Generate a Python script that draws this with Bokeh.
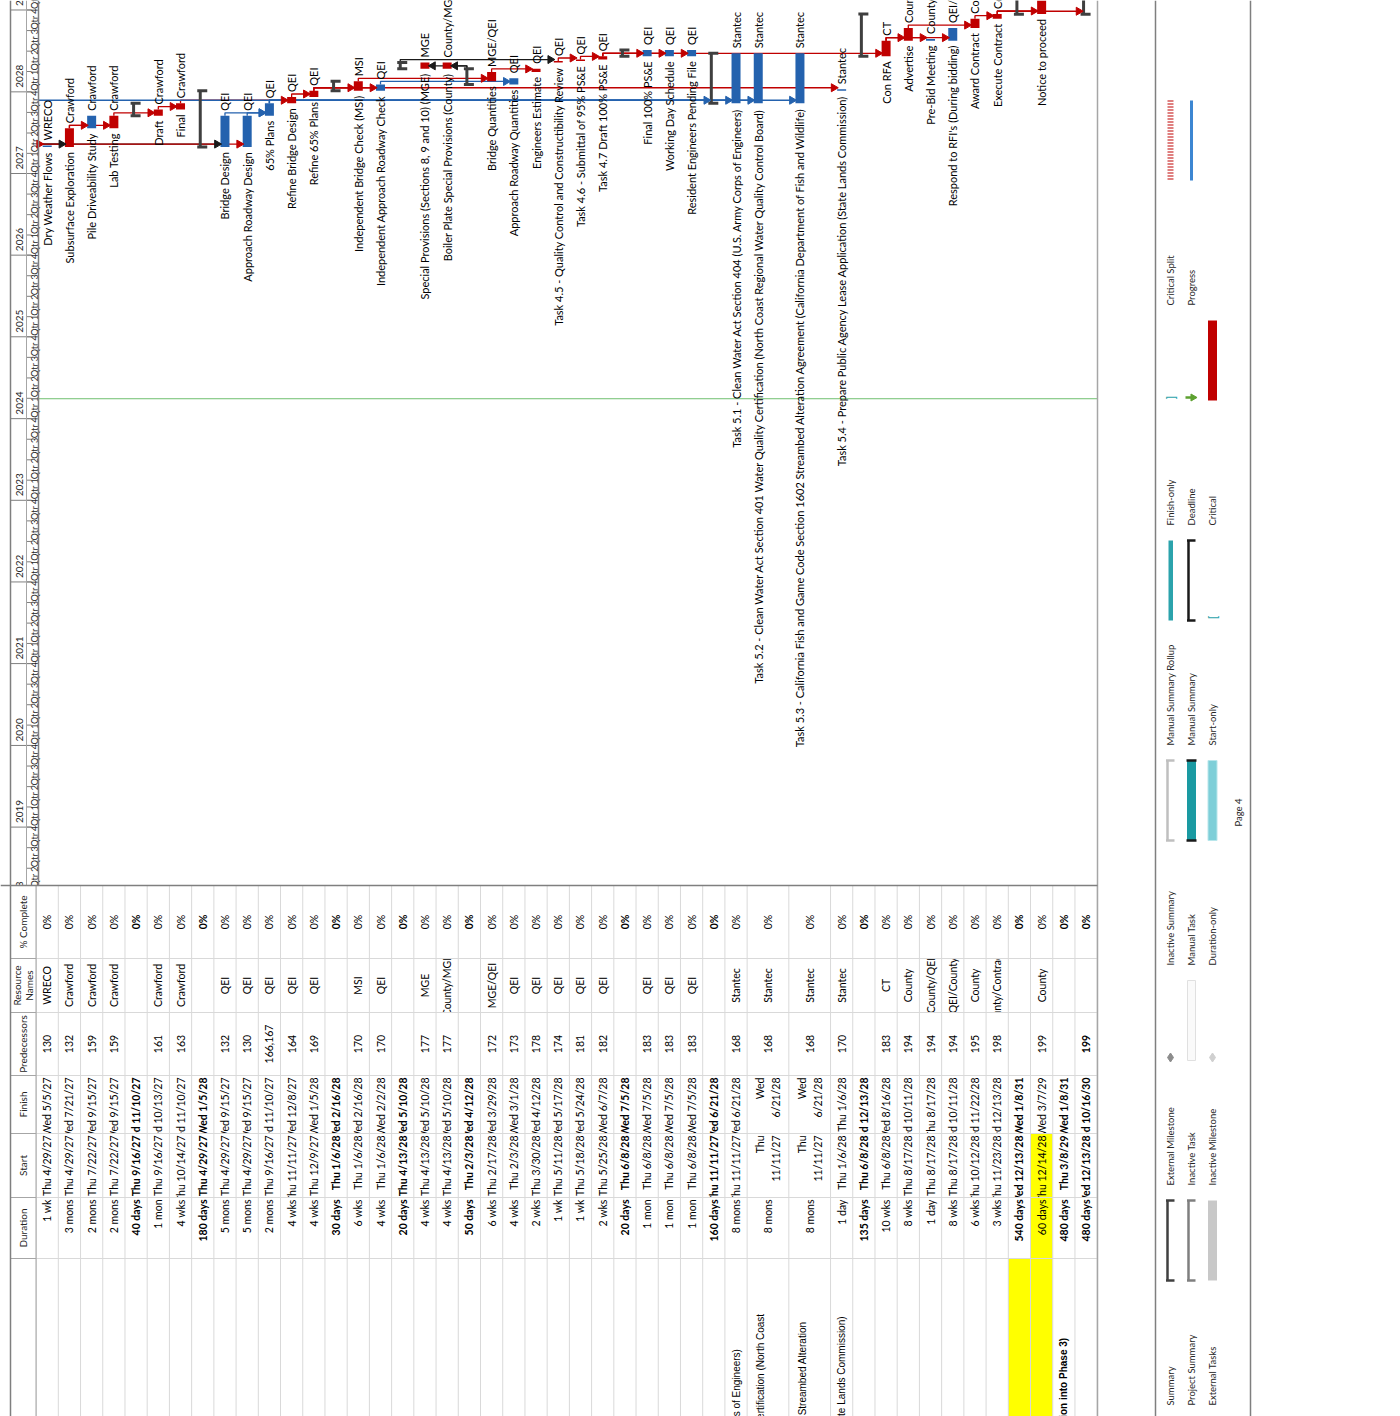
import textwrap
from math import pi
import pandas as pd
from bokeh.plotting import figure
from bokeh.models import Range1d, ColumnDataSource
from bokeh.core.properties import value
from bokeh.embed import file_html
from bokeh.resources import INLINE

# ---------------------------------------------------------------- data
task_ids = list(range(158, 204))
names = [
    "Dry Weather Flows", "Subsurface Exploration", "Pile Driveability Study", "Lab Testing",
    "", "Draft", "Final", "",
    "Bridge Design", "Approach Roadway Design", "65% Plans", "Refine Bridge Design", "Refine 65% Plans",
    "", "Independent Bridge Check (MSI)", "Independent Approach Roadway Check",
    "", "Special Provisions (Sections 8, 9 and 10) (MGE)", "Boiler Plate Special Provisions (County)",
    "", "Bridge Quantities", "Approach Roadway Quantities", "Engineers Estimate",
    "Task 4.5 - Quality Control and Constructibility Review", "Task 4.6 - Submittal of 95% PS&E",
    "Task 4.7 Draft 100% PS&E",
    "", "Final 100% PS&E", "Working Day Schedule", "Resident Engineers Pending File",
    "", "Task 5.1 - Clean Water Act Section 404 (U.S. Army Corps of Engineers)",
    "Task 5.2 - Clean Water Act Section 401 Water Quality Certification (North Coast Regional Water Quality Control Board)",
    "Task 5.3 - California Fish and Game Code Section 1602 Streambed Alteration Agreement (California Department of Fish and Wildlife)",
    "Task 5.4 - Prepare Public Agency Lease Application (State Lands Commission)",
    "", "Con RFA", "Advertise", "Pre-Bid Meeting", "Respond to RFI's (During bidding)",
    "Award Contract", "Execute Contract",
    "", "Notice to proceed", "Task 6.0 - Construction Support Services (Continuation into Phase 3)", "",
]
durations = [
    "1 wk", "3 mons", "2 mons", "2 mons", "40 days", "1 mon", "4 wks", "180 days",
    "5 mons", "5 mons", "2 mons", "4 wks", "4 wks", "30 days", "6 wks", "4 wks",
    "20 days", "4 wks", "4 wks", "50 days", "6 wks", "4 wks", "2 wks", "1 wk",
    "1 wk", "2 wks", "20 days", "1 mon", "1 mon", "1 mon", "160 days", "8 mons",
    "8 mons", "8 mons", "1 day", "135 days", "10 wks", "8 wks", "1 day", "8 wks",
    "6 wks", "3 wks", "540 days", "60 days", "480 days", "480 days",
]
starts = [
    "2027-04-29", "2027-04-29", "2027-07-22", "2027-07-22", "2027-09-16", "2027-09-16", "2027-10-14", "2027-04-29",
    "2027-04-29", "2027-04-29", "2027-09-16", "2027-11-11", "2027-12-09", "2028-01-06", "2028-01-06", "2028-01-06",
    "2028-04-13", "2028-04-13", "2028-04-13", "2028-02-03", "2028-02-17", "2028-02-03", "2028-03-30", "2028-05-11",
    "2028-05-18", "2028-05-25", "2028-06-08", "2028-06-08", "2028-06-08", "2028-06-08", "2027-11-11", "2027-11-11",
    "2027-11-11", "2027-11-11", "2028-01-06", "2028-06-08", "2028-06-08", "2028-08-17", "2028-08-17", "2028-08-17",
    "2028-10-12", "2028-11-23", "2028-12-13", "2028-12-14", "2029-03-08", "2028-12-13",
]
finishes = [
    "2027-05-05", "2027-07-21", "2027-09-15", "2027-09-15", "2027-11-10", "2027-10-13", "2027-11-10", "2028-01-05",
    "2027-09-15", "2027-09-15", "2027-11-10", "2027-12-08", "2028-01-05", "2028-02-16", "2028-02-16", "2028-02-02",
    "2028-05-10", "2028-05-10", "2028-05-10", "2028-04-12", "2028-03-29", "2028-03-01", "2028-04-12", "2028-05-17",
    "2028-05-24", "2028-06-07", "2028-07-05", "2028-07-05", "2028-07-05", "2028-07-05", "2028-06-21", "2028-06-21",
    "2028-06-21", "2028-06-21", "2028-01-06", "2028-12-13", "2028-08-16", "2028-10-11", "2028-08-17", "2028-10-11",
    "2028-11-22", "2028-12-13", "2031-01-08", "2029-03-07", "2031-01-08", "2030-10-16",
]
predecessors = [
    "130", "132", "159", "159", "", "161", "163", "", "132", "130", "166,167", "164", "169", "", "170", "170",
    "", "177", "177", "", "172", "173", "178", "174", "181", "182", "", "183", "183", "183", "", "168",
    "168", "168", "170", "", "183", "194", "194", "194", "195", "198", "", "199", "", "199",
]
resources = [
    "WRECO", "Crawford", "Crawford", "Crawford", "", "Crawford", "Crawford", "", "QEI", "QEI", "QEI", "QEI",
    "QEI", "", "MSI", "QEI", "", "MGE", "County/MGE", "", "MGE/QEI", "QEI", "QEI", "QEI", "QEI", "QEI", "",
    "QEI", "QEI", "QEI", "", "Stantec", "Stantec", "Stantec", "Stantec", "", "CT", "County", "County/QEI",
    "QEI/County", "County", "County/Contractor", "", "County", "", "",
]
pct_complete = ["0%"] * 46
# task type: crit = critical task, task = non-critical task, sum = summary
kinds = [
    "task", "crit", "task", "crit", "sum", "crit", "crit", "sum", "task", "task", "task", "crit", "crit", "sum",
    "crit", "task", "sum", "crit", "crit", "sum", "crit", "task", "crit", "crit", "crit", "crit", "sum", "task",
    "task", "task", "sum", "task", "task", "task", "task", "sum", "crit", "crit", "task", "task", "crit", "crit",
    "sum", "crit", "sum", "sum",
]
offpage_pred_kind = {130: "crit", 132: "sum"}
# links arriving from tasks on an earlier page (successor row index -> predecessor kind)
incoming_from_earlier_page = {30: "task"}
status_date = "2024-03-30"
highlight_cells = {42: ["name"], 43: ["dur", "start", "fin", "name"]}
years = list(range(2018, 2030))

legend_labels = [
    ["Summary", "External Milestone", "Inactive Summary", "Manual Summary Rollup", "Finish-only", "Critical Split"],
    ["Project Summary", "Inactive Task", "Manual Task", "Manual Summary", "Deadline", "Progress"],
    ["External Tasks", "Inactive Milestone", "Duration-only", "Start-only", "Critical"],
]
legend_symbols = [
    ["bracket_dark", "diamond_dark", "bracket_light", "rollup", "finish_only", "crit_split"],
    ["bracket_gray", "inactive_bar", "manual_task", "bracket_black", "deadline", "progress"],
    ["ext_bar", "diamond_light", "duration_only", "start_only", "crit_bar"],
]
page_label = "Page 4"

# ---------------------------------------------------------------- styles / layout
RED = "#C00000"
BLUE = "#2462AE"
SUMC = "#3F3F3F"
TEAL = "#2BA3AC"
YELLOW = "#FFFF00"
FONT = value("Lato")
NAMEFONT = value("Liberation Sans")
KCOL = {"crit": RED, "task": BLUE, "sum": "#1A1A1A"}

W, H = 1400, 1416
DAY = 86_400_000
EPOCH = pd.Timestamp("1970-01-01")


def ms(d):
    return (pd.Timestamp(d) - EPOCH) / pd.Timedelta(milliseconds=1)


PX_PER_YEAR = 81.7
MS_PER_PX = 365.25 * DAY / PX_PER_YEAR
Y_2027 = 173.0  # page y of 1 Jan 2027


def t_at(y_ref):
    return ms("2027-01-01") + (Y_2027 - y_ref) * MS_PER_PX


ROW = 22.22
TALL = 41.7
GANTT_LEFT = 38.0
TABLE_TOP = 885.0
RIGHT_EDGE = 1097.0
NAME_START = 1665.0
n = len(names)
tall = [textwrap.fill(nm, 80).count("\n") > 0 for nm in names]
heights = [TALL if t else ROW for t in tall]
tops = []
acc = 35.6
for h in heights:
    tops.append(acc)
    acc += h
bottoms = [t + h for t, h in zip(tops, heights)]
centers = [t + h / 2 for t, h in zip(tops, heights)]
bar_x = [t + ROW / 2 for t in tops]

start_ms = [ms(s) for s in starts]
end_ms = [ms(f) + DAY for f in finishes]
draw_end = [max(e, s + 1.6 * MS_PER_PX) for s, e in zip(start_ms, end_ms)]

p = figure(width=W, height=H, x_range=Range1d(0, W),
           y_range=Range1d(t_at(H), t_at(0)),
           output_backend="svg", toolbar_location=None, min_border=0,
           x_axis_location=None, y_axis_location=None)
p.extra_y_ranges = {"px": Range1d(H, 0)}
p.grid.visible = False
p.outline_line_color = None
p.background_fill_color = "white"

# ---------------------------------------------------------------- timescale header
q_starts, q_text = [], []
for yv in years:
    for q in range(4):
        q_starts.append(ms(f"{yv}-{3 * q + 1:02d}-01"))
        q_text.append(f"Qtr {q + 1}")
p.segment(x0=26, x1=31, y0=q_starts, y1=q_starts, line_color="#7F7F7F", line_width=1)
p.text(x=33.5, y=q_starts, text=q_text, angle=pi / 2, text_align="left", text_baseline="middle",
       y_offset=-1, text_font=FONT, text_font_size="9px", text_color="#262626")
y_starts = [ms(f"{yv}-01-01") for yv in years]
p.segment(x0=10, x1=31, y0=y_starts, y1=y_starts, line_color="#7F7F7F", line_width=1)
p.text(x=19, y=y_starts, text=[str(yv) for yv in years], angle=pi / 2, text_align="left",
       text_baseline="middle", y_offset=-4, text_font=FONT, text_font_size="10px", text_color="#262626")
p.segment(x0=26, x1=26, y0=t_at(TABLE_TOP), y1=t_at(0), line_color="#A6A6A6", line_width=1)

# status date line
p.segment(x0=GANTT_LEFT, x1=RIGHT_EDGE, y0=ms(status_date), y1=ms(status_date),
          line_color="#70BF70", line_width=1)

# ---------------------------------------------------------------- links
idx = {tid: i for i, tid in enumerate(task_ids)}
link_xs, link_ys, link_col = [], [], []
arr_x, arr_y, arr_a, arr_c = [], [], [], []


def anchor_x(j):
    return bar_x[j] - 2.5 if kinds[j] == "sum" else bar_x[j]


def add_link(i, xp, ys0, ly, col):
    tx = anchor_x(i)
    if tx > xp:
        ax, ang = tx - (4.5 if kinds[i] != "sum" else 1.5) - 3.5, -pi / 2
    else:
        ax, ang = tx + 4.5 + 3.5, pi / 2
    link_xs.append([xp, xp, ax])
    link_ys.append([ys0, ly, ly])
    link_col.append(col)
    arr_x.append(ax)
    arr_y.append(ly)
    arr_a.append(ang)
    arr_c.append(col)


for i, pr in enumerate(predecessors):
    for tok in [t for t in pr.split(",") if t]:
        pid = int(tok)
        ly = start_ms[i] + 3 * MS_PER_PX
        if pid in idx:
            j = idx[pid]
            add_link(i, anchor_x(j), end_ms[j], ly, KCOL[kinds[j]])
        else:
            add_link(i, GANTT_LEFT, ly, ly, KCOL[offpage_pred_kind.get(pid, "sum")])
for i, k in incoming_from_earlier_page.items():
    ly = start_ms[i] + 3 * MS_PER_PX
    add_link(i, GANTT_LEFT, ly, ly, KCOL[k])

p.multi_line(xs=link_xs, ys=link_ys, line_color=link_col, line_width=1.3)

# ---------------------------------------------------------------- bars
task_i = [i for i in range(n) if kinds[i] != "sum"]
sum_i = [i for i in range(n) if kinds[i] == "sum"]
p.vbar(x=[bar_x[i] for i in task_i], bottom=[start_ms[i] for i in task_i],
       top=[draw_end[i] for i in task_i], width=9,
       fill_color=[KCOL[kinds[i]] for i in task_i], line_color=None)
sx = [bar_x[i] - 2.5 for i in sum_i]
p.segment(x0=sx, x1=sx, y0=[start_ms[i] for i in sum_i], y1=[end_ms[i] for i in sum_i],
          line_color=SUMC, line_width=3)
for key in (start_ms, end_ms):
    p.segment(x0=[x - 3 for x in sx], x1=[x + 7 for x in sx], y0=[key[i] for i in sum_i],
              y1=[key[i] for i in sum_i], line_color=SUMC, line_width=3)

p.scatter(x=arr_x, y=arr_y, marker="triangle", size=8, angle=arr_a,
          fill_color=arr_c, line_color=arr_c)

# labels
p.text(x=[bar_x[i] for i in task_i], y=[start_ms[i] for i in task_i], text=[names[i] for i in task_i],
       angle=pi / 2, text_align="right", text_baseline="middle", y_offset=5,
       text_font=FONT, text_font_size="11px", text_color="black")
p.text(x=[bar_x[i] for i in task_i], y=[draw_end[i] for i in task_i], text=[resources[i] for i in task_i],
       angle=pi / 2, text_align="left", text_baseline="middle", y_offset=-5,
       text_font=FONT, text_font_size="11px", text_color="black")

# ---------------------------------------------------------------- table
COLS = {"pct": (885, 958), "res": (958, 1012), "pred": (1012, 1075), "fin": (1075, 1133),
        "start": (1133, 1197), "dur": (1197, 1258), "name": (1258, 1430)}
p.quad(left=0, right=RIGHT_EDGE, bottom=TABLE_TOP, top=H, fill_color="white", line_color=None,
       y_range_name="px")


def cell_bg(i, c):
    return YELLOW if c in highlight_cells.get(i, []) else "white"


def mask(c):
    # repaint a column's cell backgrounds: clips the overflow of neighbouring cells' texts
    p.quad(left=tops, right=bottoms, bottom=COLS[c][0], top=COLS[c][1],
           fill_color=[cell_bg(i, c) for i in range(n)], line_color=None, y_range_name="px")


mask("name")


def d_fmt(d, wrap):
    ts = pd.Timestamp(d)
    sep = "\n" if wrap else " "
    return f"{ts.strftime('%a')}{sep}{ts.month}/{ts.day}/{ts.strftime('%y')}"


styles = ["bold" if k == "sum" else "normal" for k in kinds]
tsrc = ColumnDataSource(dict(
    x=centers, dur=durations,
    st=[d_fmt(s, t) for s, t in zip(starts, tall)],
    fi=[d_fmt(f, t) for f, t in zip(finishes, tall)],
    pred=predecessors, res=resources, pct=pct_complete, style=styles,
    name=[textwrap.fill(nm, 80) for nm in names],
))
common = dict(angle=pi / 2, text_baseline="middle", text_font=FONT, text_font_size="10.5px",
              text_color="black", text_font_style="style", text_line_height=1.35,
              source=tsrc, y_range_name="px")
p.text(x="x", y=(COLS["res"][0] + COLS["res"][1]) / 2, text="res", text_align="center", **common)
mask("pct")
mask("pred")
p.text(x="x", y=(COLS["pct"][0] + COLS["pct"][1]) / 2, text="pct", text_align="center", **common)
p.text(x="x", y=(COLS["pred"][0] + COLS["pred"][1]) / 2, text="pred", text_align="center", **common)
p.text(x="x", y=COLS["fin"][0] + 2, text="fi", text_align="right", **common)
mask("start")
p.text(x="x", y=COLS["start"][0] + 2, text="st", text_align="right", **common)
mask("dur")
p.text(x="x", y=COLS["dur"][0] + 2, text="dur", text_align="right", **common)
p.text(x="x", y=NAME_START, text="name", text_align="left", angle=pi / 2, text_baseline="middle",
       text_font=NAMEFONT, text_font_size="10px", text_color="black", text_font_style="style",
       text_line_height=1.3, source=tsrc, y_range_name="px")

grid_x = [tops[0]] + bottoms
p.segment(x0=grid_x, x1=grid_x, y0=TABLE_TOP, y1=H, line_color="#D9D9D9", line_width=1,
          y_range_name="px")
col_y = [COLS[k][0] for k in ("res", "pred", "fin", "start", "dur", "name")]
p.segment(x0=10, x1=RIGHT_EDGE, y0=col_y, y1=col_y, line_color="#D9D9D9", line_width=1,
          y_range_name="px")
p.segment(x0=10, x1=tops[0], y0=col_y, y1=col_y, line_color="#A6A6A6", line_width=1,
          y_range_name="px")

hdr_text = ["% Complete", "Resource\nNames", "Predecessors", "Finish", "Start", "Duration"]
hdr_key = ["pct", "res", "pred", "fin", "start", "dur"]
p.text(x=(10 + tops[0]) / 2, y=[(COLS[k][0] + COLS[k][1]) / 2 for k in hdr_key], text=hdr_text,
       angle=pi / 2, text_align="center", text_baseline="middle", text_font=FONT,
       text_font_size="10px", text_color="#262626", text_line_height=1.0, y_range_name="px")

# ---------------------------------------------------------------- frame lines
p.segment(x0=[10, GANTT_LEFT, RIGHT_EDGE, 1155, 1250], x1=[10, GANTT_LEFT, RIGHT_EDGE, 1155, 1250],
          y0=[0, 0, 0, 0, 0], y1=[H, TABLE_TOP, H, H, H],
          line_color=["#7F7F7F", "#7F7F7F", "#A6A6A6", "#7F7F7F", "#7F7F7F"], line_width=1.5,
          y_range_name="px")
p.segment(x0=tops[0], x1=tops[0], y0=TABLE_TOP, y1=H, line_color="#A6A6A6", line_width=1,
          y_range_name="px")
p.segment(x0=0, x1=RIGHT_EDGE, y0=TABLE_TOP, y1=TABLE_TOP, line_color="#7F7F7F", line_width=1.5,
          y_range_name="px")

# ---------------------------------------------------------------- legend
LROW_X = [1170, 1191, 1212]
LCOL_Y = [1405 - 220 * k for k in range(6)]
lt_x, lt_y, lt_t = [], [], []
for r, labels in enumerate(legend_labels):
    for c, lab in enumerate(labels):
        lt_x.append(LROW_X[r]); lt_y.append(LCOL_Y[c]); lt_t.append(lab)
p.text(x=lt_x, y=lt_y, text=lt_t, angle=pi / 2, text_align="left", text_baseline="middle",
       text_font=FONT, text_font_size="9.5px", text_color="#262626", y_range_name="px")


def bracket(x, y0, y1, color):
    p.segment(x0=x - 3, x1=x - 3, y0=y0, y1=y1, line_color=color, line_width=2.5, y_range_name="px")
    p.segment(x0=[x - 4.5, x - 4.5], x1=[x + 4, x + 4], y0=[y0, y1], y1=[y0, y1], line_color=color,
              line_width=2.5, y_range_name="px")


for r, syms in enumerate(legend_symbols):
    for c, s in enumerate(syms):
        x = LROW_X[r]
        y_lo, y_hi = LCOL_Y[c] - 205, LCOL_Y[c] - 125
        if s.startswith("bracket"):
            colr = {"bracket_dark": "#404040", "bracket_light": "#BFBFBF", "bracket_gray": "#7F7F7F",
                    "bracket_black": "#1A1A1A"}[s]
            bracket(x, y_lo, y_hi, colr)
        elif s.startswith("diamond"):
            colr = "#8C8C8C" if s == "diamond_dark" else "#D0D0D0"
            p.scatter(x=x, y=y_hi - 3, marker="diamond", size=9, fill_color=colr, line_color=colr,
                      y_range_name="px")
        elif s == "rollup":
            p.quad(left=x - 2, right=x + 2.5, bottom=y_lo, top=y_hi, fill_color=TEAL, line_color=None,
                   y_range_name="px")
        elif s in ("finish_only", "start_only"):
            p.text(x=x, y=y_hi - 3, text=["]" if s == "finish_only" else "["], angle=pi / 2,
                   text_align="center", text_baseline="middle", text_font=FONT, text_font_size="11px",
                   text_font_style="bold", text_color=TEAL, y_range_name="px")
        elif s == "crit_split":
            p.segment(x0=x, x1=x, y0=y_lo, y1=y_hi, line_color=RED, line_width=6, line_dash="1 2",
                      y_range_name="px")
        elif s == "inactive_bar":
            p.quad(left=x - 4, right=x + 4, bottom=y_lo, top=y_hi, fill_color="#FAFAFA",
                   line_color="#E0E0E0", y_range_name="px")
        elif s == "manual_task":
            p.quad(left=x - 4.5, right=x + 4.5, bottom=y_lo, top=y_hi, fill_color="#1A9AA2",
                   line_color=None, y_range_name="px")
            p.segment(x0=[x - 5, x - 5], x1=[x + 5, x + 5], y0=[y_lo, y_hi], y1=[y_lo, y_hi],
                      line_color="#1A1A1A", line_width=2.5, y_range_name="px")
        elif s == "deadline":
            p.segment(x0=x - 6, x1=x, y0=y_hi - 3, y1=y_hi - 3, line_color="#5DA130", line_width=2.5,
                      y_range_name="px")
            p.scatter(x=x + 1.5, y=y_hi - 3, marker="triangle", size=7, angle=-pi / 2,
                      fill_color="#5DA130", line_color="#5DA130", y_range_name="px")
        elif s == "progress":
            p.segment(x0=x, x1=x, y0=y_lo, y1=y_hi, line_color="#3C86D2", line_width=3,
                      y_range_name="px")
        elif s == "ext_bar":
            p.quad(left=x - 4.5, right=x + 4.5, bottom=y_lo, top=y_hi, fill_color="#C8C8C8",
                   line_color=None, y_range_name="px")
        elif s == "duration_only":
            p.quad(left=x - 4.5, right=x + 4.5, bottom=y_lo, top=y_hi, fill_color="#7ECFD8",
                   line_color="#B8E6EB", y_range_name="px")
        elif s == "crit_bar":
            p.quad(left=x - 4.5, right=x + 4.5, bottom=y_lo, top=y_hi, fill_color=RED,
                   line_color=None, y_range_name="px")

p.text(x=1238, y=812, text=[page_label], angle=pi / 2, text_align="center", text_baseline="middle",
       text_font=FONT, text_font_size="9.5px", text_color="#262626", y_range_name="px")

open("out.html", "w").write(file_html(p, INLINE))
